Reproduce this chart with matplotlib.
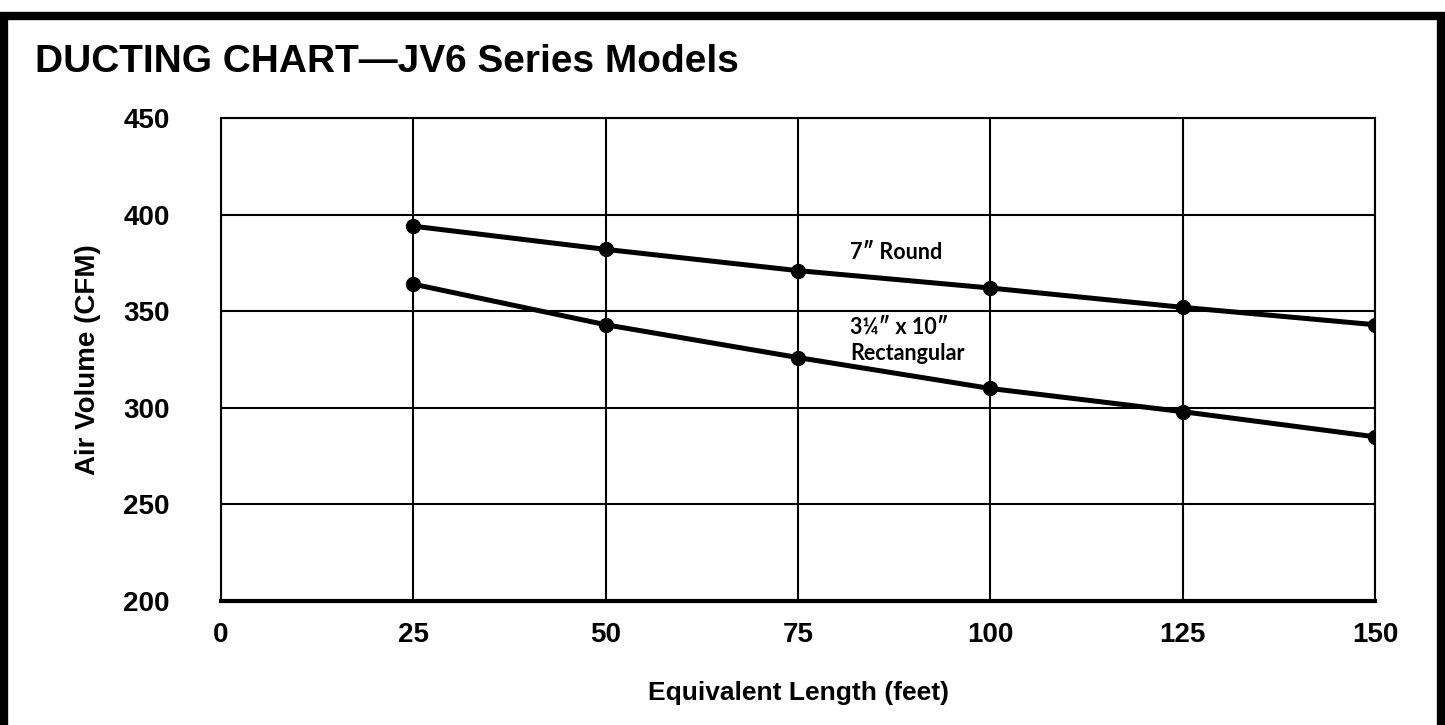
import matplotlib.pyplot as plt
from matplotlib.patches import Rectangle

# values
length_ft = [25, 50, 75, 100, 125, 150]
round_7in = [394, 382, 371, 362, 352, 343]
rect_3x10 = [364, 343, 326, 310, 298, 285]
x_ticks = [0, 25, 50, 75, 100, 125, 150]
y_ticks = [200, 250, 300, 350, 400, 450]

plt.rcParams['font.family'] = ['Liberation Sans', 'DejaVu Sans']

fig = plt.figure(figsize=(14.45, 7.25), dpi=100)
ax = fig.add_axes([221 / 1445, 1 - 601 / 725, (1375 - 221) / 1445, (601 - 118) / 725])

# outer frame
fig.patches.append(Rectangle((4 / 1445, -0.05), 1437 / 1445, 1.05 - 16 / 725,
                             transform=fig.transFigure, fill=False,
                             edgecolor='black', linewidth=6))

fig.text(35 / 1445, 1 - 72 / 725, 'DUCTING CHART\u2014JV6 Series Models',
         fontsize=28, fontweight='bold', ha='left', va='baseline')

ax.plot(length_ft, round_7in, color='black', linewidth=3.6, marker='o',
        markersize=10, zorder=3)
ax.plot(length_ft, rect_3x10, color='black', linewidth=3.6, marker='o',
        markersize=10, zorder=3)

note_font = ['Lato', 'Liberation Sans', 'DejaVu Sans']
ax.text(81.8, 380.5, '7\u2033 Round', fontsize=15.5, fontweight='bold',
        family=note_font, ha='left', va='center')
ax.text(81.8, 335, '3\u00bc\u2033 x 10\u2033\nRectangular', fontsize=15.5, fontweight='bold',
        family=note_font, ha='left', va='center', linespacing=1.3)

ax.set_xlim(0, 150)
ax.set_ylim(200, 450)
ax.set_xticks(x_ticks)
ax.set_yticks(y_ticks)
ax.grid(True, color='black', linewidth=1.5)
ax.tick_params(length=0, labelsize=20)
ax.tick_params(axis='y', pad=37)
ax.tick_params(axis='x', pad=15)
for lab in ax.get_xticklabels() + ax.get_yticklabels():
    lab.set_fontweight('bold')

for side in ['left', 'top', 'right']:
    ax.spines[side].set_linewidth(1.5)
ax.spines['bottom'].set_linewidth(3)

ax.set_xlabel('Equivalent Length (feet)', fontsize=19, fontweight='bold', labelpad=24)
ax.set_ylabel('Air Volume (CFM)', fontsize=20, fontweight='bold', labelpad=16)

fig.savefig('out.png', dpi=100)
